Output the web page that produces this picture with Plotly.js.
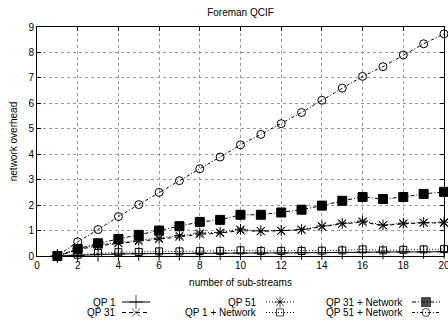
<!DOCTYPE html>
<html>
<head>
<meta charset="utf-8">
<script src="https://cdn.plot.ly/plotly-3.0.1.min.js"></script>
<style>html,body{margin:0;padding:0;background:#fff;}#chart{width:448px;height:323px;}</style>
</head>
<body>
<div id="chart"></div>
<script>
// ---- data ----
const subStreams = [1,2,3,4,5,6,7,8,9,10,11,12,13,14,15,16,17,18,19,20];
const seriesNames = ["QP 1","QP 31","QP 51","QP 1 + Network","QP 31 + Network","QP 51 + Network"];
const qp1        = [0,0.03,0.06,0.08,0.09,0.10,0.10,0.11,0.11,0.12,0.12,0.12,0.13,0.13,0.14,0.15,0.15,0.16,0.16,0.17];
const qp31       = [0,0.25,0.40,0.50,0.58,0.66,0.75,0.85,0.90,1.00,0.97,0.98,1.02,1.15,1.26,1.33,1.20,1.26,1.30,1.30];
const qp51       = [0,0.28,0.45,0.52,0.62,0.70,0.80,0.90,0.93,1.05,0.99,1.00,1.05,1.18,1.29,1.37,1.22,1.29,1.32,1.33];
const qp1Net     = [0,0.05,0.12,0.15,0.16,0.18,0.18,0.19,0.20,0.22,0.20,0.20,0.20,0.21,0.22,0.26,0.22,0.24,0.26,0.27];
const qp31Net    = [0,0.28,0.50,0.67,0.83,1.00,1.17,1.34,1.42,1.62,1.62,1.71,1.82,1.98,2.17,2.32,2.24,2.32,2.44,2.52];
const qp51Net    = [0,0.56,1.04,1.55,2.02,2.50,2.96,3.43,3.89,4.37,4.78,5.20,5.64,6.12,6.60,7.06,7.44,7.90,8.34,8.73];
const seriesValues = [qp1, qp31, qp51, qp1Net, qp31Net, qp51Net];
const xTickVals = [0,2,4,6,8,10,12,14,16,18,20];
const yTickVals = [0,1,2,3,4,5,6,7,8,9];

// ---- styles ----
const styles = [
  {dash:"solid",            symbol:"cross-thin-open",  size:10, lw:1},
  {dash:"4px,3px",          symbol:"x-thin-open",      size:8,  lw:1},
  {dash:"1px,2px",          symbol:"asterisk-open",    size:9,  lw:1},
  {dash:"1px,2px",          symbol:"square-open",      size:7,  lw:1},
  {dash:"4px,2px,1px,2px",  symbol:"square",           size:9,  lw:1},
  {dash:"3px,2px,1px,2px",  symbol:"circle-open",      size:8,  lw:1}
];

const W = 448, H = 323;
const plotL = 37, plotR = 444, plotT = 27, plotB = 256;

const traces = seriesValues.map((vals, i) => ({
  type: "scatter", mode: "lines+markers",
  x: subStreams, y: vals, name: seriesNames[i],
  xaxis: "x", yaxis: "y", showlegend: false, cliponaxis: false,
  line: {color: "#000", width: styles[i].lw, dash: styles[i].dash},
  marker: {symbol: styles[i].symbol, size: styles[i].size, color: "#000",
           line: {color: "#000", width: 1}}
}));

// ---- custom gnuplot-style legend (text right, sample left) ----
const legendCols = [
  {textRight: 118, s0: 122, s1: 150},
  {textRight: 259, s0: 266, s1: 294},
  {textRight: 405, s0: 412, s1: 440}
];
const legendRows = [302, 312.5];
const annotations = [];
seriesNames.forEach((name, i) => {
  const col = legendCols[Math.floor(i / 2)];
  const row = legendRows[i % 2];
  annotations.push({xref: "x2", yref: "y2", x: col.textRight, y: row, text: name,
    showarrow: false, xanchor: "right", yanchor: "middle",
    font: {family: "Liberation Sans, Arial, sans-serif", size: 10, color: "#000"}});
  const mid = (col.s0 + col.s1) / 2;
  traces.push({type: "scatter", mode: "lines+markers", xaxis: "x2", yaxis: "y2",
    x: [col.s0, mid, col.s1], y: [row, row, row], showlegend: false, hoverinfo: "skip",
    cliponaxis: false,
    line: {color: "#000", width: styles[i].lw, dash: styles[i].dash},
    marker: {symbol: styles[i].symbol, size: [0, styles[i].size, 0], color: "#000",
             line: {color: "#000", width: 1}}});
});

const axisFont = {family: "Liberation Sans, Arial, sans-serif", size: 10, color: "#000"};
const layout = {
  width: W, height: H,
  margin: {l: 0, r: 0, t: 0, b: 0, pad: 0},
  paper_bgcolor: "#fff", plot_bgcolor: "rgba(0,0,0,0)",
  font: axisFont,
  title: {text: "Foreman QCIF", font: {family: "Liberation Sans, Arial, sans-serif", size: 10, color: "#000"},
          xref: "container", yref: "container", x: ((plotL + plotR) / 2) / W, y: 1 - 12 / H,
          xanchor: "center", yanchor: "middle"},
  xaxis: {domain: [plotL / W, plotR / W], range: [0, 20], tickvals: xTickVals,
          ticks: "inside", ticklen: 4, tickcolor: "#000", mirror: "ticks",
          showline: true, linecolor: "#000", linewidth: 1,
          showgrid: true, gridcolor: "#999", griddash: "dot", gridwidth: 1,
          zeroline: false, tickfont: axisFont, automargin: false, ticklabeloverflow: "allow",
          title: {text: "number of sub-streams", font: axisFont, standoff: 8}},
  yaxis: {domain: [1 - plotB / H, 1 - plotT / H], range: [0, 9], tickvals: yTickVals,
          ticks: "inside", ticklen: 4, tickcolor: "#000", mirror: "ticks",
          showline: true, linecolor: "#000", linewidth: 1,
          showgrid: true, gridcolor: "#999", griddash: "dot", gridwidth: 1,
          zeroline: false, tickfont: axisFont, automargin: false, ticklabeloverflow: "allow",
          title: {text: "network overhead", font: axisFont, standoff: 8}},
  xaxis2: {domain: [0, 1], range: [0, W], visible: false, fixedrange: true, anchor: "y2"},
  yaxis2: {domain: [0, 1], range: [H, 0], visible: false, fixedrange: true, anchor: "x2"},
  annotations: annotations,
  showlegend: false
};

Plotly.newPlot("chart", traces, layout, {displayModeBar: false, staticPlot: true});
</script>
</body>
</html>
